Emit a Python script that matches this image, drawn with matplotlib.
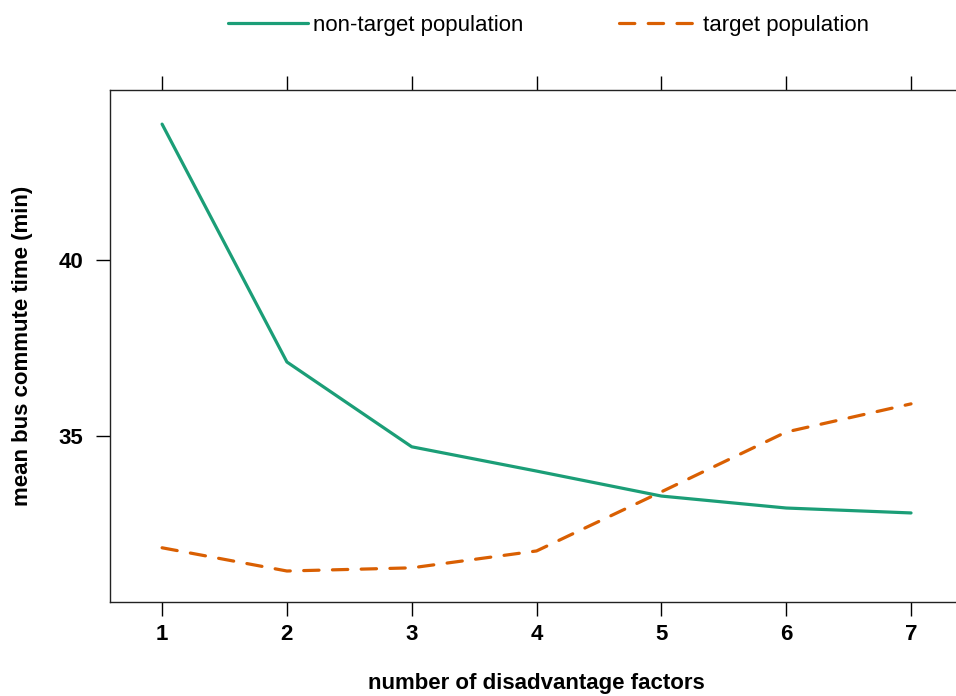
import matplotlib.pyplot as plt

plt.rcParams['font.family'] = ['Liberation Sans', 'DejaVu Sans']

factors = [1, 2, 3, 4, 5, 6, 7]
non_target = [43.86, 37.10, 34.69, 34.00, 33.29, 32.95, 32.81]
target = [31.82, 31.16, 31.25, 31.73, 33.41, 35.11, 35.91]

green = '#1B9E77'
orange = '#D95F02'

fig = plt.figure(figsize=(9.56, 6.96), dpi=100)
ax = fig.add_axes([0.1151, 0.1351, 0.8923, 0.7356])

ax.plot(factors, non_target, color=green, lw=2.3, solid_capstyle='round',
        label='non-target population')
ax.plot(factors, target, color=orange, lw=2.3, linestyle=(0, (4.8, 4.2)),
        dash_capstyle='round', label='target population')

ax.set_xlim(0.583, 7.417)
ax.set_ylim(30.28, 44.83)
ax.set_xticks(factors)
ax.set_yticks([35, 40])

for s in ax.spines.values():
    s.set_linewidth(1.0)
    s.set_color('#222222')

ax.tick_params(axis='x', which='both', direction='out', length=10, width=1.0,
               top=True, labeltop=False, pad=6, labelsize=16)
ax.tick_params(axis='y', which='both', direction='out', length=10, width=1.0,
               right=False, pad=9, labelsize=16)
for lab in ax.get_xticklabels() + ax.get_yticklabels():
    lab.set_fontweight('bold')

ax.set_xlabel('number of disadvantage factors', fontsize=16,
              fontweight='bold', labelpad=20)
ax.set_ylabel('mean bus commute time (min)', fontsize=16,
              fontweight='bold', labelpad=19)

fig.legend(loc='center', bbox_to_anchor=(0.574, 0.963), ncol=2, frameon=False,
           fontsize=16, handlelength=3.6, handletextpad=0.2,
           columnspacing=4.3)

fig.savefig('out.png', dpi=100)
